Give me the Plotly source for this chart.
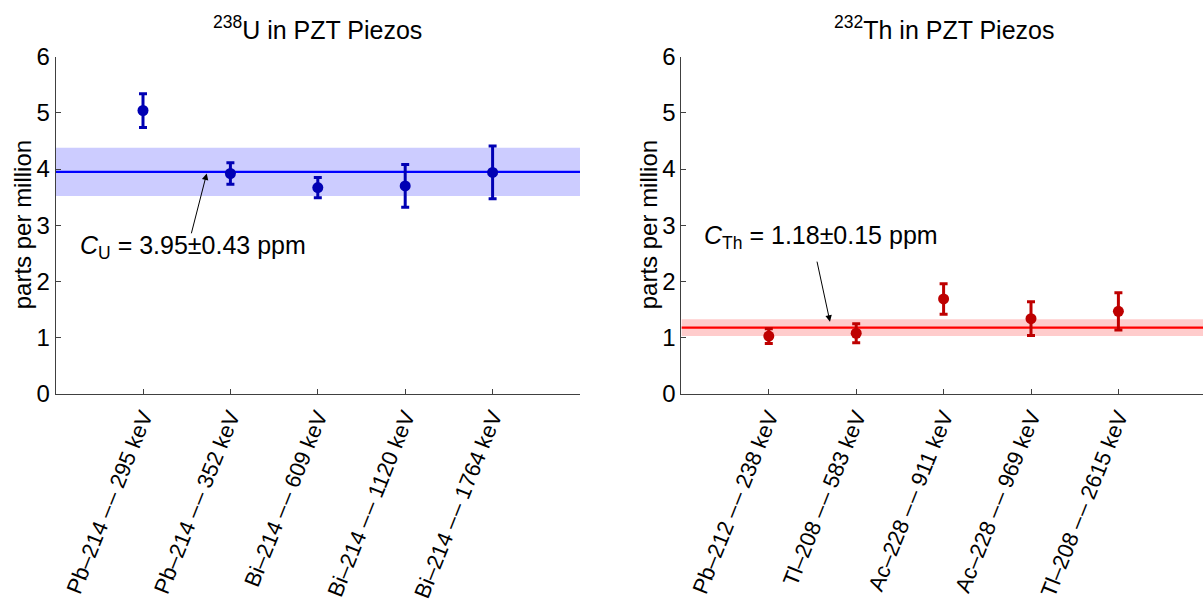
import plotly.graph_objects as go

# --- data -------------------------------------------------------------
DASH = "–\u200a–"
u_lines = [f"Pb–214 {DASH} 295 keV", f"Pb–214 {DASH} 352 keV", f"Bi–214 {DASH} 609 keV",
           f"Bi–214 {DASH} 1120 keV", f"Bi–214 {DASH} 1764 keV"]
u_ppm = [5.04, 3.92, 3.67, 3.70, 3.94]
u_err = [0.30, 0.19, 0.18, 0.38, 0.47]
u_mean, u_sigma = 3.95, 0.43

th_lines = [f"Pb–212 {DASH} 238 keV", f"Tl–208 {DASH} 583 keV", f"Ac–228 {DASH} 911 keV",
            f"Ac–228 {DASH} 969 keV", f"Tl–208 {DASH} 2615 keV"]
th_ppm = [1.03, 1.08, 1.69, 1.34, 1.47]
th_err = [0.13, 0.17, 0.27, 0.30, 0.33]
th_mean, th_sigma = 1.18, 0.15

y_ticks = [0, 1, 2, 3, 4, 5, 6]

# --- styling ----------------------------------------------------------
W, H = 1203, 607
FONT = "Liberation Sans"
AX = "#404040"
px_unit = 87.4            # pixel width of one category step
left_x0, right_x0 = 55.6, 681.4
y_bottom, y_top = 394.0, 56.5

panels = [
    dict(cats=u_lines, vals=u_ppm, errs=u_err, mean=u_mean, sig=u_sigma,
         mark="rgb(0,0,180)", line="rgb(0,0,255)", band="rgba(204,204,255,1)",
         title="<sup>238</sup>U in PZT Piezos", label="<i>C</i><sub>U</sub>",
         text_xy=(1.57, 2.61), tip=(1.729, 3.92), tail=(1.549, 2.83),
         dom=[left_x0 / W, 580.0 / W], rng=[0, (580.0 - left_x0) / px_unit]),
    dict(cats=th_lines, vals=th_ppm, errs=th_err, mean=th_mean, sig=th_sigma,
         mark="rgb(190,0,0)", line="rgb(255,0,0)", band="rgba(255,204,204,1)",
         title="<sup>232</sup>Th in PZT Piezos", label="<i>C</i><sub>Th</sub>",
         text_xy=(1.60, 2.79), tip=(1.70, 1.285), tail=(1.548, 2.38),
         dom=[right_x0 / W, 1.0], rng=[0, (W - right_x0) / px_unit]),
]

ydom = [1 - y_bottom / H, 1 - y_top / H]

fig = go.Figure()
annotations = []
for i, p in enumerate(panels):
    xa = "x" if i == 0 else "x2"
    ya = "y" if i == 0 else "y2"
    xs = list(range(1, len(p["vals"]) + 1))
    lo, hi = p["mean"] - p["sig"], p["mean"] + p["sig"]
    xe = 6.5
    # uncertainty band of the combined concentration
    fig.add_trace(go.Scatter(x=[0, xe, xe, 0, 0], y=[lo, lo, hi, hi, lo],
                             fill="toself", fillcolor=p["band"], mode="none",
                             xaxis=xa, yaxis=ya, showlegend=False, hoverinfo="skip"))
    # combined concentration
    fig.add_trace(go.Scatter(x=[0, xe], y=[p["mean"], p["mean"]], mode="lines",
                             line=dict(color=p["line"], width=2.2),
                             xaxis=xa, yaxis=ya, showlegend=False))
    # per-line measurements
    fig.add_trace(go.Scatter(x=xs, y=p["vals"], mode="markers",
                             marker=dict(color=p["mark"], size=11),
                             error_y=dict(type="data", array=p["errs"], visible=True,
                                          color=p["mark"], thickness=3, width=4),
                             xaxis=xa, yaxis=ya, showlegend=False))

    cx = (p["dom"][0] + (p["dom"][0] + 524.4 / W)) / 2
    annotations.append(dict(text=p["title"], xref="paper", yref="paper",
                            x=cx, y=1 - 27.5 / H, xanchor="center", yanchor="middle",
                            showarrow=False, font=dict(family=FONT, size=25, color="black")))
    annotations.append(dict(text="parts per million", xref="paper", yref="paper",
                            x=(22 if i == 0 else 648) / W, y=(ydom[0] + ydom[1]) / 2,
                            textangle=-90, xanchor="center", yanchor="middle",
                            showarrow=False, font=dict(family=FONT, size=24, color="black")))
    annotations.append(dict(
        text=f"{p['label']} = {p['mean']:.2f}±{p['sig']:.2f} ppm",
        xref=xa, yref=ya, x=p["text_xy"][0], y=p["text_xy"][1],
        xanchor="center", yanchor="middle", showarrow=False,
        font=dict(family=FONT, size=25, color="black")))
    annotations.append(dict(
        text="", xref=xa, yref=ya, x=p["tip"][0], y=p["tip"][1],
        axref=xa, ayref=ya, ax=p["tail"][0], ay=p["tail"][1],
        showarrow=True, arrowhead=2, arrowsize=1.3, arrowwidth=1,
        arrowcolor="black", standoff=0, startstandoff=0))

    axis_common = dict(showline=True, linecolor=AX, linewidth=1, mirror=False,
                       showgrid=False, zeroline=False, ticks="inside",
                       ticklen=5, tickcolor=AX, tickwidth=1, automargin=False)
    fig.update_layout({
        ("xaxis" if i == 0 else "xaxis2"): dict(
            domain=p["dom"], range=p["rng"], anchor=ya, tickmode="array",
            tickvals=xs, ticktext=p["cats"], tickangle=-68,
            tickfont=dict(family=FONT, size=22, color="black"), **axis_common),
        ("yaxis" if i == 0 else "yaxis2"): dict(
            domain=ydom, range=[0, 6], anchor=xa, tickmode="array",
            tickvals=y_ticks, tickfont=dict(family=FONT, size=24, color="black"),
            **axis_common),
    })

fig.update_layout(width=W, height=H, margin=dict(l=0, r=0, t=0, b=0, autoexpand=False),
                  paper_bgcolor="white", plot_bgcolor="white",
                  annotations=annotations, showlegend=False)
fig.write_html("out.html")
